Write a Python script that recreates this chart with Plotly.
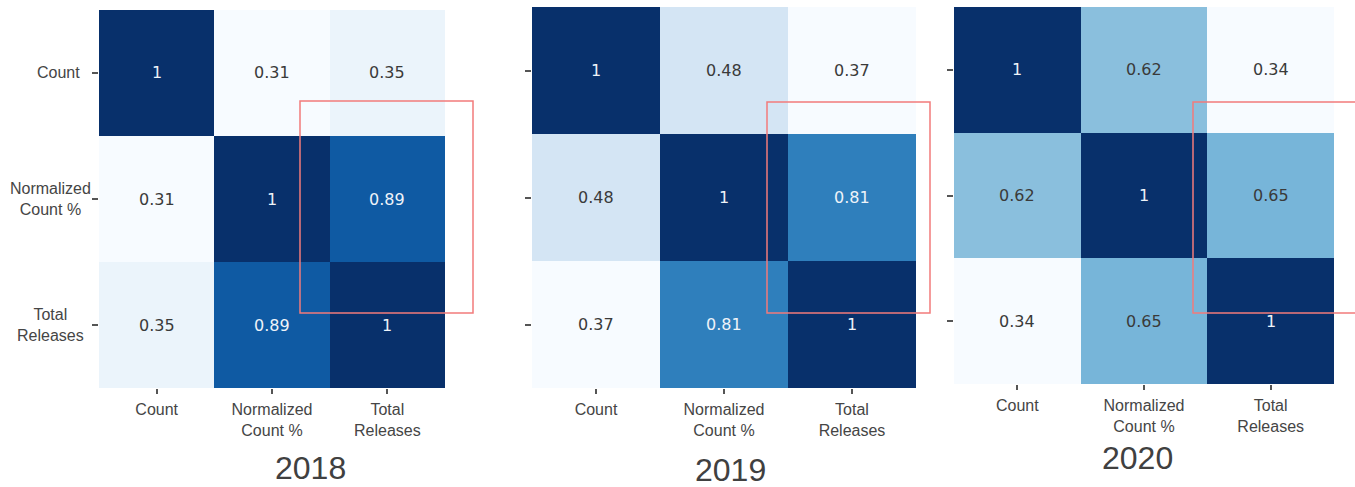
import plotly.graph_objects as go
import plotly.express as px

# Correlation matrices between the three metrics, one per year
labels = ["Count", "Normalized Count %", "Total Releases"]
tick_text = ["Count", "Normalized<br>Count %", "Total<br>Releases"]
years = ["2018", "2019", "2020"]
corr_2018 = [[1, 0.31, 0.35], [0.31, 1, 0.89], [0.35, 0.89, 1]]
corr_2019 = [[1, 0.48, 0.37], [0.48, 1, 0.81], [0.37, 0.81, 1]]
corr_2020 = [[1, 0.62, 0.34], [0.62, 1, 0.65], [0.34, 0.65, 1]]
matrices = [corr_2018, corr_2019, corr_2020]

W, H = 1355, 487
# pixel boxes of each heatmap: (left, top, right, bottom)
boxes = [(99, 10, 445, 388), (532, 7, 916, 388), (954, 7, 1334, 384)]
# highlight boxes around the Total Releases / Normalized Count % cell
highlights = [(300, 101, 473, 313), (767, 102, 930, 313), (1193, 102, 1362, 313)]
title_pos = [(310, 468), (730, 470), (1137, 458)]

blues = px.colors.sequential.Blues
TICK_FONT = dict(family="Liberation Sans, Arial, sans-serif", size=16, color="#454545")
VAL_FONT = "DejaVu Sans"


def px2paper_x(v):
    return v / W


def px2paper_y(v):
    return 1 - v / H


fig = go.Figure()
annotations = []
shapes = []

for i, (z, year, box) in enumerate(zip(matrices, years, boxes)):
    n = "" if i == 0 else str(i + 1)
    xa, ya = "x" + n, "y" + n
    zmin = min(min(r) for r in z)
    fig.add_trace(go.Heatmap(
        z=z, x=[0, 1, 2], y=[0, 1, 2],
        colorscale=blues, zmin=zmin, zmax=1,
        showscale=False, xaxis=xa, yaxis=ya, hoverinfo="skip",
        xgap=0, ygap=0,
    ))
    l, t, r, b = box
    fig.layout["xaxis" + n] = dict(
        domain=[px2paper_x(l), px2paper_x(r)], anchor=ya,
        range=[-0.5, 2.5], tickvals=[0, 1, 2], ticktext=tick_text,
        ticks="outside", ticklen=5, tickwidth=1.5, tickcolor="#555",
        tickfont=TICK_FONT, showgrid=False, zeroline=False, showline=False,
        fixedrange=True, ticklabelstandoff=2,
    )
    fig.layout["yaxis" + n] = dict(
        domain=[px2paper_y(b), px2paper_y(t)], anchor=xa,
        range=[2.5, -0.5], tickvals=[0, 1, 2], showticklabels=False,
        ticks="outside", ticklen=6, tickwidth=1.5, tickcolor="#555",
        showgrid=False, zeroline=False, showline=False, fixedrange=True,
    )
    # cell values, light text on the dark cells
    for ri, row in enumerate(z):
        for ci, v in enumerate(row):
            frac = (v - zmin) / (1 - zmin)
            col = "#eef3f9" if frac > 0.6 else "#3a3a3a"
            annotations.append(dict(
                x=ci, y=ri, xref=xa, yref=ya, text=f"{v:g}", showarrow=False,
                font=dict(family=VAL_FONT, size=16, color=col),
            ))
    # year caption
    tx, ty = title_pos[i]
    annotations.append(dict(
        x=px2paper_x(tx), y=px2paper_y(ty), xref="paper", yref="paper",
        text=year, showarrow=False, xanchor="center", yanchor="middle",
        font=dict(family="Liberation Sans, Arial, sans-serif", size=32, color="#404040"),
    ))
    hx0, hy0, hx1, hy1 = highlights[i]
    shapes.append(dict(
        type="rect", xref="paper", yref="paper",
        x0=px2paper_x(hx0), x1=px2paper_x(hx1),
        y0=px2paper_y(hy1), y1=px2paper_y(hy0),
        line=dict(color="#f27b7b", width=1.5), fillcolor="rgba(0,0,0,0)",
        layer="above",
    ))

# row labels of the first matrix, lines centred on each other
for ri, lab in enumerate(["Count", "Normalized<br>Count %", "Total<br>Releases"]):
    if ri == 0:
        annotations.append(dict(
            x=0, y=ri, xref="x domain", yref="y", text=lab, showarrow=False,
            xanchor="right", xshift=-17, font=TICK_FONT,
        ))
    else:
        annotations.append(dict(
            x=0, y=ri, xref="x domain", yref="y", text=lab, showarrow=False,
            xanchor="center", align="center", xshift=-49, font=TICK_FONT,
        ))

fig.update_layout(
    width=W, height=H, margin=dict(l=0, r=0, t=0, b=0),
    paper_bgcolor="white", plot_bgcolor="white",
    annotations=annotations, shapes=shapes, showlegend=False,
)

fig.write_html("out.html")
